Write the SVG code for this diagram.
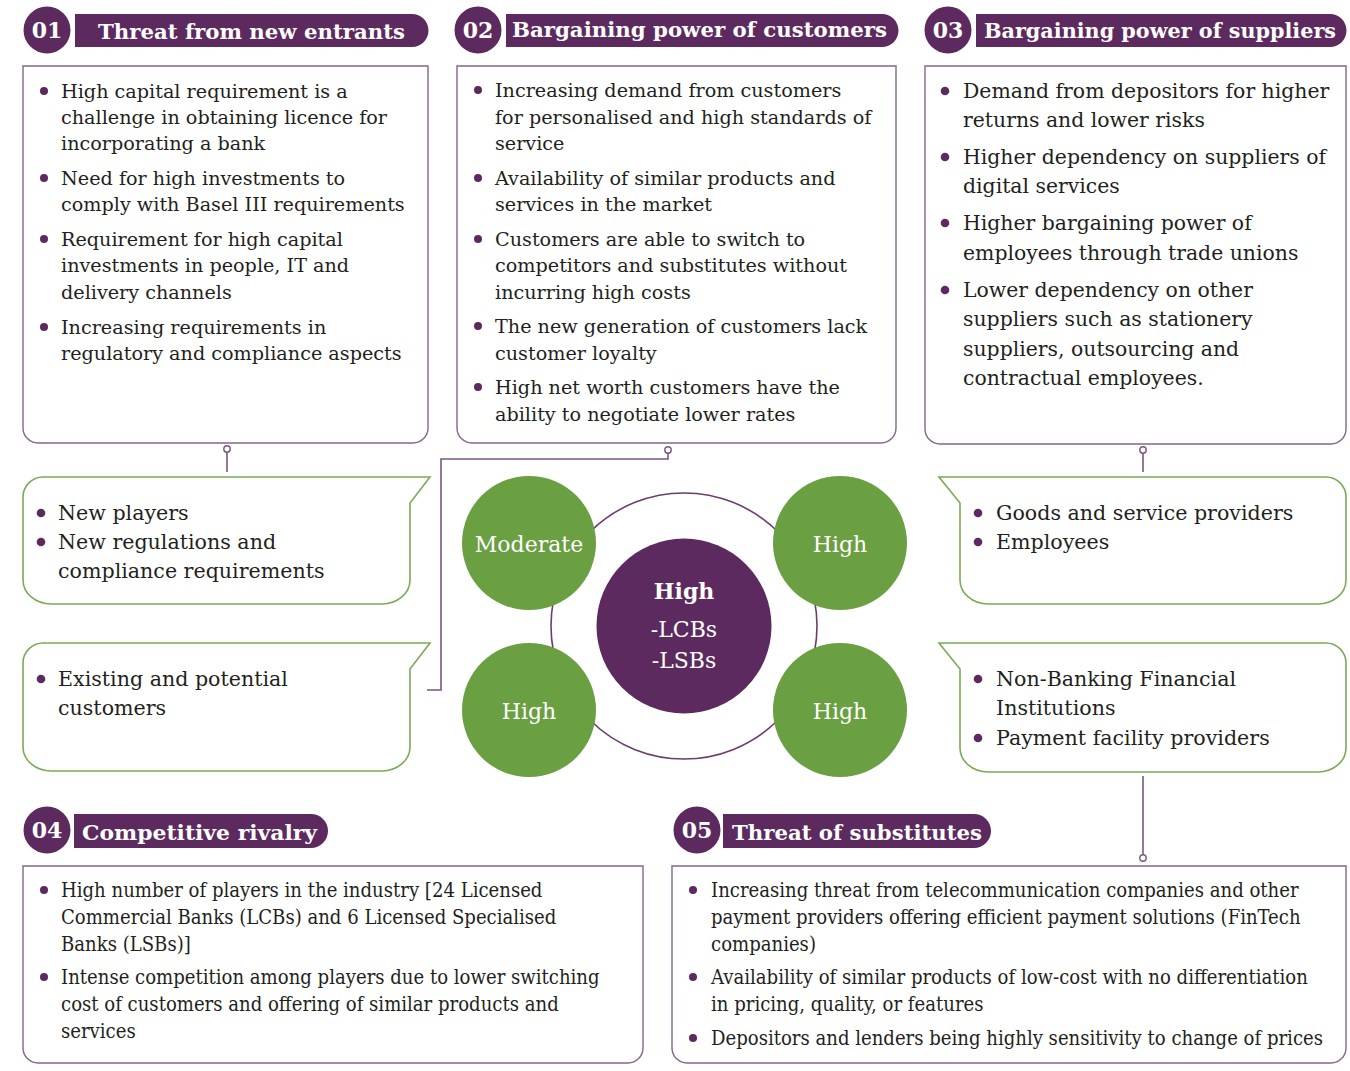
<svg xmlns="http://www.w3.org/2000/svg" width="1350" height="1071" viewBox="0 0 1350 1071">
<style>
.bg{fill:#ffffff}
.box{fill:#ffffff;stroke:#85658a;stroke-width:1.4}
.call{fill:#ffffff;stroke:#7bab55;stroke-width:1.6}
.hbar{fill:#5c2a5e}
.hnum{fill:#ffffff;font-family:"DejaVu Serif",serif;font-weight:bold;font-size:22px;text-anchor:middle}
.htxt{fill:#ffffff;font-family:"DejaVu Serif",serif;font-weight:bold;font-size:20.5px}
.t1{fill:#231f20;font-family:"DejaVu Serif",serif;font-size:19.2px}
.t3{fill:#231f20;font-family:"DejaVu Serif",serif;font-size:20.4px}
.tc{fill:#231f20;font-family:"DejaVu Serif",serif;font-size:20.6px}
.t4{fill:#231f20;font-family:"DejaVu Serif Condensed","DejaVu Serif",serif;font-size:20.1px}
.dot{fill:#5c2a5e}
.con{fill:none;stroke:#7a5580;stroke-width:1.6}
.pin{fill:#ffffff;stroke:#7a5580;stroke-width:1.4}
.green{fill:#6a9f42}
.ctxt{fill:#ffffff;font-family:"DejaVu Serif",serif;font-size:22px;text-anchor:middle}
.cbold{fill:#ffffff;font-family:"DejaVu Serif",serif;font-weight:bold;font-size:22px;text-anchor:middle}
</style>
<rect class="bg" x="0" y="0" width="1350" height="1071"/>

<g id="connectors">
<path class="con" d="M227,452 V472"/>
<circle class="pin" cx="227" cy="449" r="3.2"/>
<path class="con" d="M668,453 V459 H441 V690 H427"/>
<circle class="pin" cx="668" cy="450" r="3.2"/>
<path class="con" d="M1143,453 V472"/>
<circle class="pin" cx="1143" cy="450" r="3.2"/>
<path class="con" d="M1143,776 V855"/>
<circle class="pin" cx="1143" cy="858" r="3.2"/>
<circle cx="684" cy="626" r="133" fill="none" stroke="#6b3d6e" stroke-width="1.6"/>
</g>

<g id="header01">
<circle class="hbar" cx="47" cy="30" r="23.5"/>
<text class="hnum" x="47" y="38">01</text>
<path class="hbar" d="M75,14 H412 A16.5,16.5 0 0 1 412,47 H75 Z"/>
<text class="htxt" x="98" y="39" textLength="307" lengthAdjust="spacingAndGlyphs">Threat from new entrants</text>
</g>

<g id="header02">
<circle class="hbar" cx="478" cy="30" r="23.5"/>
<text class="hnum" x="478" y="38">02</text>
<path class="hbar" d="M506,14 H882 A16.5,16.5 0 0 1 882,47 H506 Z"/>
<text class="htxt" x="512" y="37" textLength="375" lengthAdjust="spacingAndGlyphs">Bargaining power of customers</text>
</g>

<g id="header03">
<circle class="hbar" cx="948" cy="30" r="23.5"/>
<text class="hnum" x="948" y="38">03</text>
<path class="hbar" d="M976,14 H1330 A16.5,16.5 0 0 1 1330,47 H976 Z"/>
<text class="htxt" x="984" y="38" textLength="352" lengthAdjust="spacingAndGlyphs">Bargaining power of suppliers</text>
</g>

<g id="header04">
<circle class="hbar" cx="47" cy="830" r="23.5"/>
<text class="hnum" x="47" y="838">04</text>
<path class="hbar" d="M74,814 H311 A17,17 0 0 1 311,848 H74 Z"/>
<text class="htxt" x="82" y="840" textLength="235" lengthAdjust="spacingAndGlyphs">Competitive rivalry</text>
</g>

<g id="header05">
<circle class="hbar" cx="697" cy="830" r="23.5"/>
<text class="hnum" x="697" y="838">05</text>
<path class="hbar" d="M723,814 H974 A17,17 0 0 1 974,848 H723 Z"/>
<text class="htxt" x="732" y="840" textLength="250" lengthAdjust="spacingAndGlyphs">Threat of substitutes</text>
</g>

<g id="box01">
<path class="box" d="M23,66 H428 V428 A15,15 0 0 1 413,443 H38 A15,15 0 0 1 23,428 Z"/>
<circle class="dot" cx="44" cy="91" r="4"/>
<text class="t1" x="61" y="98">High capital requirement is a</text>
<text class="t1" x="61" y="124">challenge in obtaining licence for</text>
<text class="t1" x="61" y="150">incorporating a bank</text>
<circle class="dot" cx="44" cy="178" r="4"/>
<text class="t1" x="61" y="185">Need for high investments to</text>
<text class="t1" x="61" y="211">comply with Basel III requirements</text>
<circle class="dot" cx="44" cy="239" r="4"/>
<text class="t1" x="61" y="246">Requirement for high capital</text>
<text class="t1" x="61" y="272">investments in people, IT and</text>
<text class="t1" x="61" y="299">delivery channels</text>
<circle class="dot" cx="44" cy="327" r="4"/>
<text class="t1" x="61" y="334">Increasing requirements in</text>
<text class="t1" x="61" y="360">regulatory and compliance aspects</text>
</g>

<g id="box02">
<path class="box" d="M457,66 H896 V428 A15,15 0 0 1 881,443 H472 A15,15 0 0 1 457,428 Z"/>
<circle class="dot" cx="478" cy="90" r="4"/>
<text class="t1" x="495" y="97">Increasing demand from customers</text>
<text class="t1" x="495" y="124">for personalised and high standards of</text>
<text class="t1" x="495" y="150">service</text>
<circle class="dot" cx="478" cy="178" r="4"/>
<text class="t1" x="495" y="185">Availability of similar products and</text>
<text class="t1" x="495" y="211">services in the market</text>
<circle class="dot" cx="478" cy="239" r="4"/>
<text class="t1" x="495" y="246">Customers are able to switch to</text>
<text class="t1" x="495" y="272">competitors and substitutes without</text>
<text class="t1" x="495" y="299">incurring high costs</text>
<circle class="dot" cx="478" cy="326" r="4"/>
<text class="t1" x="495" y="333">The new generation of customers lack</text>
<text class="t1" x="495" y="360">customer loyalty</text>
<circle class="dot" cx="478" cy="387" r="4"/>
<text class="t1" x="495" y="394">High net worth customers have the</text>
<text class="t1" x="495" y="421">ability to negotiate lower rates</text>
</g>

<g id="box03">
<path class="box" d="M925,66 H1346 V429 A15,15 0 0 1 1331,444 H940 A15,15 0 0 1 925,429 Z"/>
<circle class="dot" cx="945" cy="91" r="4.3"/>
<text class="t3" x="963" y="98">Demand from depositors for higher</text>
<text class="t3" x="963" y="127">returns and lower risks</text>
<circle class="dot" cx="945" cy="157" r="4.3"/>
<text class="t3" x="963" y="164">Higher dependency on suppliers of</text>
<text class="t3" x="963" y="193">digital services</text>
<circle class="dot" cx="945" cy="223" r="4.3"/>
<text class="t3" x="963" y="230">Higher bargaining power of</text>
<text class="t3" x="963" y="260">employees through trade unions</text>
<circle class="dot" cx="945" cy="290" r="4.3"/>
<text class="t3" x="963" y="297">Lower dependency on other</text>
<text class="t3" x="963" y="326">suppliers such as stationery</text>
<text class="t3" x="963" y="356">suppliers, outsourcing and</text>
<text class="t3" x="963" y="385">contractual employees.</text>
</g>

<g id="callout-new-entrants">
<path class="call" d="M23,497 A20,20 0 0 1 43,477 H430 L410,503 V580 A28,24 0 0 1 382,604 H51 A28,24 0 0 1 23,580 Z"/>
<circle class="dot" cx="41" cy="513" r="4.3"/>
<text class="tc" x="58" y="520">New players</text>
<circle class="dot" cx="41" cy="542" r="4.3"/>
<text class="tc" x="58" y="549">New regulations and</text>
<text class="tc" x="58" y="578">compliance requirements</text>
</g>

<g id="callout-customers">
<path class="call" d="M23,663 A20,20 0 0 1 43,643 H430 L410,669 V747 A28,24 0 0 1 382,771 H51 A28,24 0 0 1 23,747 Z"/>
<circle class="dot" cx="41" cy="679" r="4.3"/>
<text class="tc" x="58" y="686">Existing and potential</text>
<text class="tc" x="58" y="715">customers</text>
</g>

<g id="callout-suppliers">
<path class="call" d="M939,477 H1326 A20,20 0 0 1 1346,497 V580 A28,24 0 0 1 1318,604 H988 A28,24 0 0 1 960,580 V503 Z"/>
<circle class="dot" cx="978" cy="513" r="4.3"/>
<text class="tc" x="996" y="520">Goods and service providers</text>
<circle class="dot" cx="978" cy="542" r="4.3"/>
<text class="tc" x="996" y="549">Employees</text>
</g>

<g id="callout-substitutes">
<path class="call" d="M939,643 H1326 A20,20 0 0 1 1346,663 V748 A28,24 0 0 1 1318,772 H988 A28,24 0 0 1 960,748 V669 Z"/>
<circle class="dot" cx="978" cy="679" r="4.3"/>
<text class="tc" x="996" y="686">Non-Banking Financial</text>
<text class="tc" x="996" y="715">Institutions</text>
<circle class="dot" cx="978" cy="738" r="4.3"/>
<text class="tc" x="996" y="745">Payment facility providers</text>
</g>

<g id="circle-new-entrants">
<circle class="green" cx="529" cy="543" r="67"/>
<text class="ctxt" x="529" y="552">Moderate</text>
</g>
<g id="circle-suppliers">
<circle class="green" cx="840" cy="543" r="67"/>
<text class="ctxt" x="840" y="552">High</text>
</g>
<g id="circle-customers">
<circle class="green" cx="529" cy="710" r="67"/>
<text class="ctxt" x="529" y="719">High</text>
</g>
<g id="circle-substitutes">
<circle class="green" cx="840" cy="710" r="67"/>
<text class="ctxt" x="840" y="719">High</text>
</g>
<g id="circle-rivalry">
<circle class="hbar" cx="684" cy="626" r="87.5"/>
<text class="cbold" x="684" y="599">High</text>
<text class="ctxt" x="684" y="637">-LCBs</text>
<text class="ctxt" x="684" y="668">-LSBs</text>
</g>

<g id="box04">
<path class="box" d="M23,866 H643 V1048 A15,15 0 0 1 628,1063 H38 A15,15 0 0 1 23,1048 Z"/>
<circle class="dot" cx="44" cy="890" r="4"/>
<text class="t4" x="61" y="897">High number of players in the industry [24 Licensed</text>
<text class="t4" x="61" y="924">Commercial Banks (LCBs) and 6 Licensed Specialised</text>
<text class="t4" x="61" y="951">Banks (LSBs)]</text>
<circle class="dot" cx="44" cy="977" r="4"/>
<text class="t4" x="61" y="984">Intense competition among players due to lower switching</text>
<text class="t4" x="61" y="1011">cost of customers and offering of similar products and</text>
<text class="t4" x="61" y="1038">services</text>
</g>

<g id="box05">
<path class="box" d="M672,866 H1346 V1048 A15,15 0 0 1 1331,1063 H687 A15,15 0 0 1 672,1048 Z"/>
<circle class="dot" cx="693" cy="890" r="4"/>
<text class="t4" x="711" y="897">Increasing threat from telecommunication companies and other</text>
<text class="t4" x="711" y="924">payment providers offering efficient payment solutions (FinTech</text>
<text class="t4" x="711" y="951">companies)</text>
<circle class="dot" cx="693" cy="977" r="4"/>
<text class="t4" x="711" y="984">Availability of similar products of low-cost with no differentiation</text>
<text class="t4" x="711" y="1011">in pricing, quality, or features</text>
<circle class="dot" cx="693" cy="1038" r="4"/>
<text class="t4" x="711" y="1045">Depositors and lenders being highly sensitivity to change of prices</text>
</g>
</svg>
